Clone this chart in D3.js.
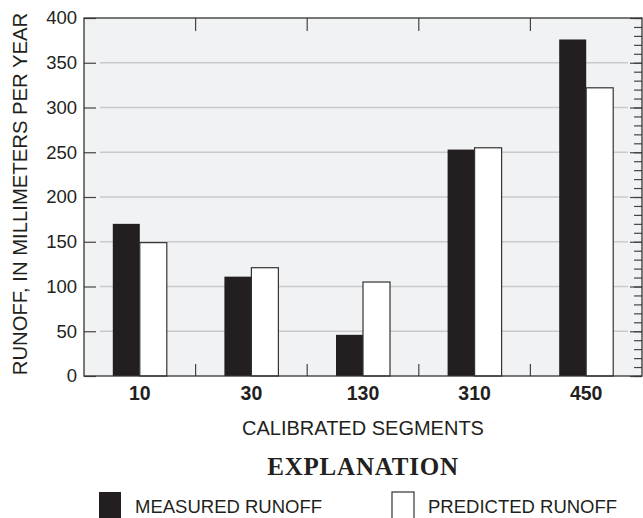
<!DOCTYPE html>
<html>
<head>
<meta charset="utf-8">
<script src="https://cdn.jsdelivr.net/npm/d3@7"></script>
<style>
  body { margin: 0; background: #ffffff; }
  svg { display: block; font-family: "Liberation Sans", Arial, sans-serif; }
</style>
</head>
<body>
<div class="chart"></div>
<script>
// Data
const segments = ["10", "30", "130", "310", "450"];
const seriesNames = ["Measured", "Predicted"];
const measuredRunoff = [170, 111, 46, 253, 376];
const predictedRunoff = [149, 121, 105, 255, 322];
const yTicksMajor = [0, 50, 100, 150, 200, 250, 300, 350, 400];
const gridValues = [50, 100, 150, 200, 250, 300, 350];
const legendLabels = ["MEASURED RUNOFF", "PREDICTED RUNOFF"];

// Set the dimensions and margins of the graph
let margin = { top: 18, right: 1, bottom: 142, left: 84 },
  width = 643 - margin.left - margin.right,
  height = 518 - margin.top - margin.bottom;

const root = d3
  .select(".chart")
  .append("svg")
  .attr("width", 643)
  .attr("height", 518);

const svg = root
  .append("g")
  .attr("transform", `translate(${margin.left},${margin.top})`);

// plot background
svg
  .append("rect")
  .attr("width", width)
  .attr("height", height)
  .attr("fill", "#f1f2f4");

// scales
const x0 = d3.scaleBand().domain(segments).range([0, width]).padding(0);
const x1 = d3.scaleBand().domain(seriesNames).range([0, 54]);
const y = d3.scaleLinear().domain([0, 400]).range([height, 0]);

// gridlines (inset from the frame)
svg
  .selectAll(".grid")
  .data(gridValues)
  .join("line")
  .attr("class", "grid")
  .attr("x1", 16)
  .attr("x2", width - 14)
  .attr("y1", (d) => y(d))
  .attr("y2", (d) => y(d))
  .attr("stroke", "#c9cacc")
  .attr("stroke-width", 1.5);

// build rows for the bars
const data = [];
segments.forEach((seg, i) => {
  data.push({ seg: seg, name: "Measured", value: measuredRunoff[i] });
  data.push({ seg: seg, name: "Predicted", value: predictedRunoff[i] });
});

svg
  .selectAll(".bar")
  .data(data)
  .join("rect")
  .attr("class", "bar")
  .attr("x", (d) => x0(d.seg) + x0.bandwidth() / 2 - 27 + x1(d.name))
  .attr("y", (d) => y(d.value))
  .attr("width", x1.bandwidth())
  .attr("height", (d) => height - y(d.value))
  .attr("fill", (d) => (d.name === "Measured" ? "#231f20" : "#ffffff"))
  .attr("stroke", (d) => (d.name === "Measured" ? "none" : "#333333"))
  .attr("stroke-width", 1.2);

// minor + major ticks pointing inward on left and right
const minorTicks = d3.range(0, 401, 10);
function inwardTicks(axis, size, values) {
  return axis.tickValues(values).tickSize(size).tickFormat("");
}
svg
  .append("g")
  .call(inwardTicks(d3.axisRight(y), 8, minorTicks))
  .call(inwardTicks(d3.axisRight(y), 12, yTicksMajor));
svg
  .append("g")
  .attr("transform", `translate(${width},0)`)
  .call(inwardTicks(d3.axisLeft(y), 8, minorTicks));
svg
  .append("g")
  .attr("transform", `translate(${width},0)`)
  .call(inwardTicks(d3.axisLeft(y), 12, yTicksMajor));
svg.selectAll(".domain").remove();
svg.selectAll(".tick line").attr("stroke", "#444444").attr("stroke-width", 1.2);

// y tick labels
const yLabels = svg
  .append("g")
  .call(d3.axisLeft(y).tickValues(yTicksMajor).tickSize(0).tickPadding(7));
yLabels.select(".domain").remove();
yLabels
  .selectAll("text")
  .style("font-size", "18.5px")
  .style("font-family", "'Liberation Sans', Arial, sans-serif")
  .attr("fill", "#231f20");

// group separator ticks at top and bottom
const separators = segments.slice(1).map((s) => x0(s));
svg
  .selectAll(".sepTop")
  .data(separators)
  .join("line")
  .attr("x1", (d) => d)
  .attr("x2", (d) => d)
  .attr("y1", 0)
  .attr("y2", 13)
  .attr("stroke", "#444444")
  .attr("stroke-width", 1.2);
svg
  .selectAll(".sepBottom")
  .data(separators)
  .join("line")
  .attr("x1", (d) => d)
  .attr("x2", (d) => d)
  .attr("y1", height - 12)
  .attr("y2", height)
  .attr("stroke", "#444444")
  .attr("stroke-width", 1.2);

// frame
svg
  .append("rect")
  .attr("width", width)
  .attr("height", height)
  .attr("fill", "none")
  .attr("stroke", "#333333")
  .attr("stroke-width", 1.3);

// x tick labels
const xAxis = svg
  .append("g")
  .attr("transform", `translate(0,${height})`)
  .call(d3.axisBottom(x0).tickSize(0).tickPadding(10));
xAxis.select(".domain").remove();
xAxis
  .selectAll("text")
  .style("font-size", "19.5px")
  .style("font-weight", "bold")
  .style("font-family", "'Liberation Sans', Arial, sans-serif")
  .attr("fill", "#231f20");

// axis titles
svg
  .append("text")
  .attr("x", width / 2)
  .attr("y", height + 59)
  .attr("text-anchor", "middle")
  .style("font-size", "20px")
  .attr("fill", "#231f20")
  .text("CALIBRATED SEGMENTS");

root
  .append("text")
  .attr("transform", `translate(27,${margin.top + height / 2 - 3}) rotate(-90)`)
  .attr("text-anchor", "middle")
  .style("font-size", "20.3px")
  .attr("fill", "#231f20")
  .text("RUNOFF, IN MILLIMETERS PER YEAR");

// explanation / legend
root
  .append("text")
  .attr("x", margin.left + width / 2)
  .attr("y", 475)
  .attr("text-anchor", "middle")
  .style("font-family", "'Liberation Serif', 'Times New Roman', serif")
  .style("font-weight", "bold")
  .style("font-size", "25px")
  .style("letter-spacing", "0.8px")
  .attr("fill", "#231f20")
  .text("EXPLANATION");

const legendX = [99, 392];
const legend = root
  .selectAll(".legend")
  .data(seriesNames)
  .join("g")
  .attr("class", "legend")
  .attr("transform", (d, i) => `translate(${legendX[i]},492)`);

legend
  .append("rect")
  .attr("width", 22)
  .attr("height", 34)
  .attr("fill", (d, i) => (i === 0 ? "#231f20" : "#ffffff"))
  .attr("stroke", (d, i) => (i === 0 ? "none" : "#333333"))
  .attr("stroke-width", 1.2);

legend
  .append("text")
  .attr("x", 36)
  .attr("y", 21)
  .style("font-size", "18.5px")
  .attr("fill", "#231f20")
  .text((d, i) => legendLabels[i]);
</script>
</body>
</html>
